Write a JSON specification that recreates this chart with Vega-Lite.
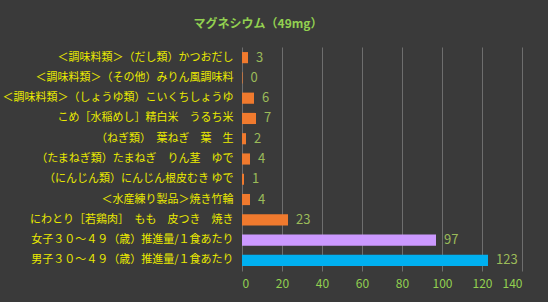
{
  "$schema": "https://vega.github.io/schema/vega-lite/v6.json",
  "width": 280,
  "height": 224,
  "autosize": "none",
  "padding": {"left": 242, "top": 47, "right": 26, "bottom": 31},
  "background": "#3a3a3a",
  "title": {
    "text": "マグネシウム（49mg）",
    "color": "#92d050",
    "font": "Noto Sans CJK JP",
    "fontSize": 12,
    "fontWeight": "bold",
    "anchor": "middle",
    "dx": -124,
    "offset": 16
  },
  "data": {
    "values": [
      {"name": "＜調味料類＞（だし類）かつおだし", "value": 3, "grp": "food"},
      {"name": "＜調味料類＞（その他）みりん風調味料", "value": 0.3, "grp": "food"},
      {"name": "＜調味料類＞（しょうゆ類）こいくちしょうゆ", "value": 6, "grp": "food"},
      {"name": "こめ［水稲めし］精白米　うるち米", "value": 7, "grp": "food"},
      {"name": "（ねぎ類）　葉ねぎ　葉　生", "value": 2, "grp": "food"},
      {"name": "（たまねぎ類）たまねぎ　りん茎　ゆで", "value": 4, "grp": "food"},
      {"name": "（にんじん類）にんじん根皮むき ゆで", "value": 1, "grp": "food"},
      {"name": "＜水産練り製品＞焼き竹輪", "value": 4, "grp": "food"},
      {"name": "にわとり［若鶏肉］　もも　皮つき　焼き", "value": 23, "grp": "food"},
      {"name": "女子３０～４９（歳）推進量/１食あたり", "value": 97, "grp": "female"},
      {"name": "男子３０～４９（歳）推進量/１食あたり", "value": 123, "grp": "male"}
    ]
  },
  "config": {
    "view": {"stroke": null},
    "font": "Noto Sans CJK JP"
  },
  "encoding": {
    "y": {
      "field": "name",
      "type": "nominal",
      "sort": null,
      "scale": {"paddingInner": 0.45, "paddingOuter": 0.25},
      "axis": {
        "title": null,
        "domain": false,
        "ticks": false,
        "labelPadding": 9,
        "labelColor": "#eaea00",
        "labelFontSize": 11,
        "labelFont": "Noto Sans CJK JP",
        "labelLimit": 260
      }
    },
    "x": {
      "field": "value",
      "type": "quantitative",
      "scale": {"domain": [0, 140], "nice": false},
      "axis": {
        "title": null,
        "values": [0, 20, 40, 60, 80, 100, 120, 140],
        "domain": false,
        "ticks": false,
        "gridColor": "#6e6e6e",
        "gridWidth": 1,
        "labelColor": "#92d050",
        "labelFontSize": 12,
        "labelPadding": 7
      }
    }
  },
  "layer": [
    {
      "mark": {"type": "bar"},
      "encoding": {
        "color": {
          "field": "grp",
          "type": "nominal",
          "scale": {"domain": ["food", "female", "male"], "range": ["#f07a2e", "#cc99ff", "#00b0f0"]},
          "legend": null
        }
      }
    },
    {
      "mark": {"type": "rule", "color": "#c8c8c8", "strokeWidth": 1},
      "data": {"values": [{"z": 0}]},
      "encoding": {"x": {"datum": 0}, "y": null}
    },
    {
      "mark": {"type": "text", "align": "left", "dx": 8, "color": "#9bbb59", "fontSize": 13},
      "encoding": {"text": {"field": "value", "type": "quantitative", "format": ".0f"}}
    }
  ]
}
